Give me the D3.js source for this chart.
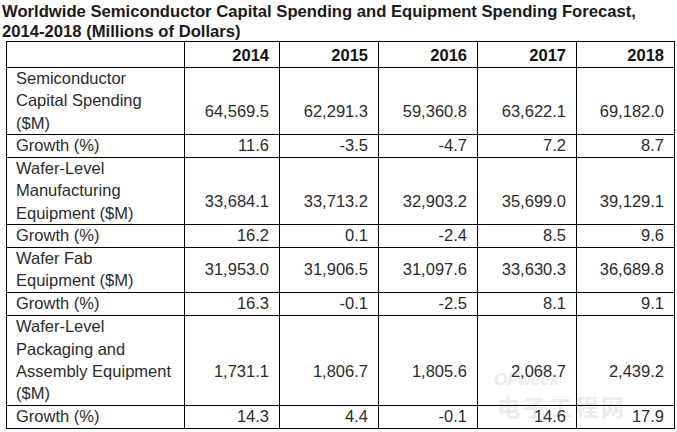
<!DOCTYPE html>
<html>
<head>
<meta charset="utf-8">
<title>Semiconductor Capital Spending</title>
<style>
  body { margin: 0; background: #fff; }
  svg text { font-family: "Liberation Sans", Arial, sans-serif; }
</style>
</head>
<body>
<div id="chart"></div>
<script src="https://d3js.org/d3.v7.min.js"></script>
<script>

  let titleLines = ['Worldwide Semiconductor Capital Spending and Equipment Spending Forecast,',
                    '2014-2018 (Millions of Dollars)'];
  let years = ['2014', '2015', '2016', '2017', '2018'];

  let rowLabels = [
    'Semiconductor\nCapital Spending\n($M)',
    'Growth (%)',
    'Wafer-Level\nManufacturing\nEquipment ($M)',
    'Growth (%)',
    'Wafer Fab\nEquipment ($M)',
    'Growth (%)',
    'Wafer-Level\nPackaging and\nAssembly Equipment\n($M)',
    'Growth (%)'
  ];

  let capitalSpending = [64569.5, 62291.3, 59360.8, 63622.1, 69182.0];
  let capitalGrowth = [11.6, -3.5, -4.7, 7.2, 8.7];
  let wlmEquipment = [33684.1, 33713.2, 32903.2, 35699.0, 39129.1];
  let wlmGrowth = [16.2, 0.1, -2.4, 8.5, 9.6];
  let fabEquipment = [31953.0, 31906.5, 31097.6, 33630.3, 36689.8];
  let fabGrowth = [16.3, -0.1, -2.5, 8.1, 9.1];
  let packagingEquipment = [1731.1, 1806.7, 1805.6, 2068.7, 2439.2];
  let packagingGrowth = [14.3, 4.4, -0.1, 14.6, 17.9];

  let rowValues = [capitalSpending, capitalGrowth, wlmEquipment, wlmGrowth,
                   fabEquipment, fabGrowth, packagingEquipment, packagingGrowth];

  let svgWidth = 677;
  let svgHeight = 432;
  let fontSize = 16.5;
  let lineH = 22.3;
  let tableLeft = 6;
  let tableTop = 41;
  let headerH = 26;
  let pad = 10;

  let colRight = d3.scaleOrdinal().domain(years).range([279, 378, 477, 576, 674]);
  let labelRight = 183.5;
  let tableRight = colRight(years[years.length - 1]);

  // plain hyphen for negatives, like the source table
  let locale = d3.formatLocale({decimal: '.', thousands: ',', grouping: [3],
                                currency: ['$', ''], minus: '-'});
  let fmtMoney = locale.format(',.1f');
  let fmtPct = locale.format('.1f');

  let rows = rowLabels.map((label, i) => {
    let lines = label.split('\n');
    return {lines: lines, values: rowValues[i], pct: i % 2 === 1,
            h: Math.round(lines.length * lineH + 0.3)};
  });
  let yPos = tableTop + headerH;
  rows.forEach(r => { r.y = yPos; yPos += r.h; });
  let tableBottom = yPos;

  let svg = d3.select('#chart')
    .append('svg')
      .attr('width', svgWidth)
      .attr('height', svgHeight);

  // title
  svg.selectAll('.title')
    .data(titleLines)
    .enter()
    .append('text')
      .attr('class', 'title')
      .attr('x', 2)
      .attr('y', (d, i) => 17.3 + i * 20)
      .style('font-size', '16.65px')
      .style('font-weight', 'bold')
      .style('fill', '#1a1a1a')
      .text(d => d);

  // watermark
  let wm = svg.append('g').style('opacity', 0.5);
  wm.append('text')
    .attr('x', 494).attr('y', 385)
    .style('font-size', '17px').style('font-weight', 'bold').style('font-style', 'italic')
    .style('fill', '#d9d9d9')
    .text('OFweek');
  wm.append('text')
    .attr('x', 497).attr('y', 416)
    .style('font-family', '"Noto Sans CJK SC", sans-serif')
    .style('font-size', '23px')
    .style('font-weight', 'bold')
    .style('letter-spacing', '3px')
    .style('fill', '#dadada')
    .text('电子工程网');

  // header
  svg.selectAll('.year')
    .data(years)
    .enter()
    .append('text')
      .attr('class', 'year')
      .attr('x', d => colRight(d) - pad)
      .attr('y', tableTop + headerH / 2 + fontSize * 0.4)
      .style('text-anchor', 'end')
      .style('font-size', fontSize + 'px')
      .style('font-weight', 'bold')
      .style('fill', '#111')
      .text(d => d);

  // body rows
  let rowG = svg.selectAll('.row')
    .data(rows)
    .enter()
    .append('g')
      .attr('class', 'row');

  rowG.each(function(r) {
    let g = d3.select(this);
    let mid = r.y + r.h / 2;
    let first = mid - (r.lines.length - 1) * lineH / 2;
    g.selectAll('.label')
      .data(r.lines)
      .enter()
      .append('text')
        .attr('x', tableLeft + pad)
        .attr('y', (d, i) => first + i * lineH + fontSize * 0.35)
        .style('font-size', fontSize + 'px')
        .style('fill', '#2b2b2b')
        .text(d => d);

    let shift = r.lines.length >= 3 ? lineH * 0.5 : 0;
    g.selectAll('.val')
      .data(r.values)
      .enter()
      .append('text')
        .attr('x', (d, i) => colRight(years[i]) - pad)
        .attr('y', mid + shift + fontSize * 0.35)
        .style('text-anchor', 'end')
        .style('font-size', fontSize + 'px')
        .style('fill', '#2b2b2b')
        .text(d => r.pct ? fmtPct(d) : fmtMoney(d));
  });

  // grid lines
  let hLines = [tableTop, tableTop + headerH].concat(rows.map(r => r.y + r.h));
  svg.selectAll('.hline')
    .data(hLines)
    .enter()
    .append('line')
      .attr('x1', tableLeft)
      .attr('x2', tableRight)
      .attr('y1', d => Math.round(d) + 0.5)
      .attr('y2', d => Math.round(d) + 0.5)
      .style('stroke', '#000')
      .style('stroke-width', 1);

  let vLines = [tableLeft, labelRight].concat(years.map(d => colRight(d)));
  svg.selectAll('.vline')
    .data(vLines)
    .enter()
    .append('line')
      .attr('x1', d => Math.round(d) + 0.5)
      .attr('x2', d => Math.round(d) + 0.5)
      .attr('y1', tableTop)
      .attr('y2', tableBottom + 1)
      .style('stroke', '#000')
      .style('stroke-width', 1);

</script>
</body>
</html>
